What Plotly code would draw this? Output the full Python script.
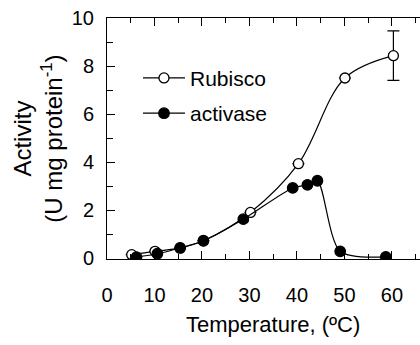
import plotly.graph_objects as go

# Data
rub_temp = [5.2, 10.1, 15.4, 20.3, 30.2, 40.3, 50.1, 60.3]
rub_act = [0.14, 0.28, 0.42, 0.72, 1.90, 3.93, 7.50, 8.43]
rub_err = [0, 0, 0, 0, 0, 0, 0, 1.03]

act_temp = [6.2, 10.6, 15.4, 20.3, 28.7, 39.1, 42.2, 44.3, 49.1, 58.7]
act_act = [0.04, 0.18, 0.42, 0.72, 1.62, 2.92, 3.05, 3.22, 0.28, 0.05]
act_err = [0, 0, 0, 0, 0, 0, 0, 0.1, 0, 0]

x_ticks = [0, 10, 20, 30, 40, 50, 60]
y_ticks = [0, 2, 4, 6, 8, 10]

FONT = "Liberation Sans, Arial, sans-serif"

fig = go.Figure()
fig.add_trace(go.Scatter(
    x=rub_temp, y=rub_act, name="Rubisco", mode="lines+markers",
    line=dict(color="black", width=1.2, shape="spline", smoothing=1.0),
    marker=dict(symbol="circle", size=10, color="white",
                line=dict(color="black", width=1.3)),
    error_y=dict(type="data", array=rub_err, visible=True, color="black",
                 thickness=1.2, width=6),
    legendgroup="a",
))
fig.add_trace(go.Scatter(
    x=act_temp, y=act_act, name="activase", mode="lines+markers",
    line=dict(color="black", width=1.2, shape="spline", smoothing=0.8),
    marker=dict(symbol="circle", size=10.5, color="black",
                line=dict(color="black", width=1.3)),
    error_y=dict(type="data", array=act_err, visible=True, color="black",
                 thickness=1.2, width=4),
    legendgroup="b",
))

fig.update_layout(
    width=420, height=345,
    margin=dict(l=107, r=0, t=18, b=86),
    paper_bgcolor="white", plot_bgcolor="white",
    font=dict(family=FONT, color="black", size=20),
    showlegend=True,
    legend=dict(x=0.099, y=0.835, xanchor="left", yanchor="top",
                bgcolor="rgba(0,0,0,0)", font=dict(family=FONT, size=21),
                itemwidth=42, traceorder="grouped", tracegroupgap=5),
    xaxis=dict(range=[0, 65.9], tickvals=x_ticks, showgrid=False, zeroline=False,
               showline=True, linecolor="black", linewidth=1, mirror="ticks",
               ticks="inside", ticklen=8, tickwidth=1, tickcolor="black",
               minor=dict(dtick=5, tick0=5, ticks="inside", ticklen=5,
                          tickwidth=1, tickcolor="black"),
               ticklabelstandoff=18, tickfont=dict(family=FONT, size=20)),
    yaxis=dict(range=[-0.04, 10], tickvals=y_ticks, showgrid=False, zeroline=False,
               showline=True, linecolor="black", linewidth=1, mirror=False,
               ticks="inside", ticklen=8, tickwidth=1, tickcolor="black",
               minor=dict(dtick=1, tick0=1, ticks="inside", ticklen=6,
                          tickwidth=1, tickcolor="black"),
               ticklabelstandoff=8, tickfont=dict(family=FONT, size=20)),
    yaxis2=dict(range=[-0.04, 10], overlaying="y", side="right", dtick=1,
                showgrid=False, zeroline=False, showline=False,
                ticks="inside", ticklen=6, tickwidth=1, tickcolor="black",
                showticklabels=False),
    annotations=[
        dict(text="Temperature, (ºC)", xref="paper", yref="paper",
             x=0.529, y=-0.27, xanchor="center", yanchor="middle",
             showarrow=False, font=dict(family=FONT, size=22)),
        dict(text="Activity<br>(U mg protein<sup>-1</sup>)", xref="paper", yref="paper",
             x=-0.223, y=0.5, xanchor="center", yanchor="middle",
             textangle=-90, showarrow=False, font=dict(family=FONT, size=24)),
    ],
)

fig.write_html("out.html")
